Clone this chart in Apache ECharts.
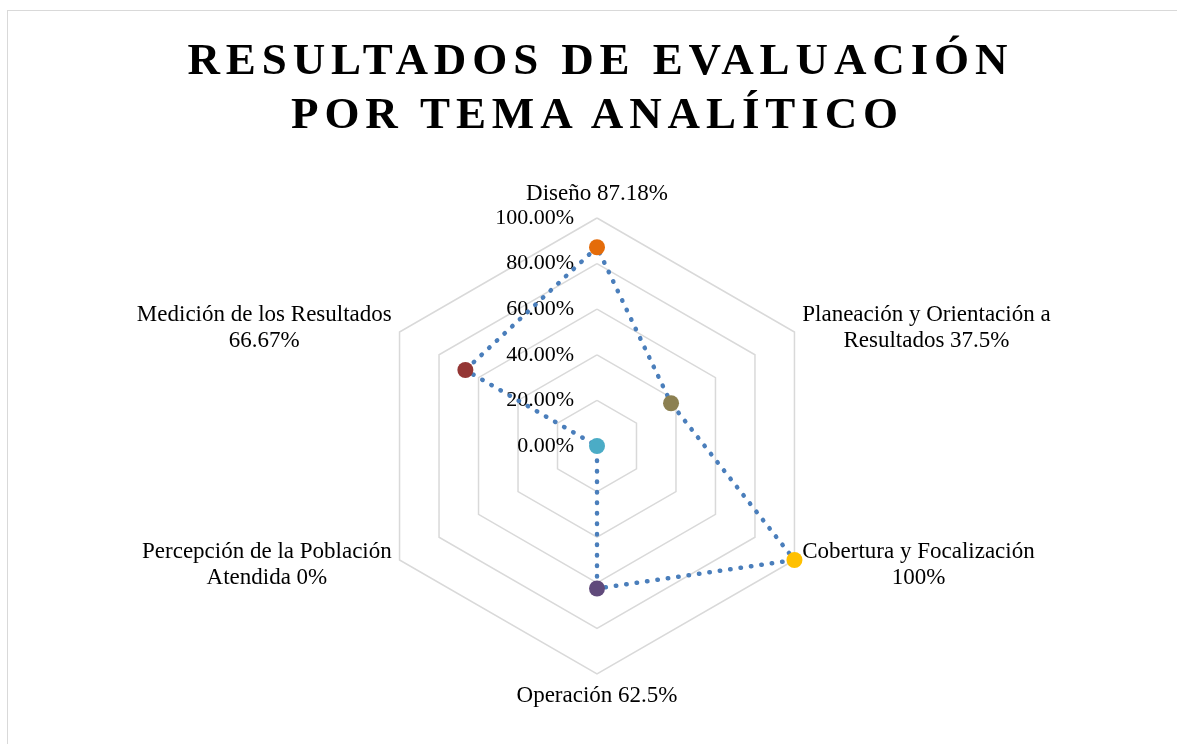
<!DOCTYPE html>
<html>
<head>
<meta charset="utf-8">
<script src="https://cdn.jsdelivr.net/npm/echarts@6/dist/echarts.min.js"></script>
<style>
  html, body { margin: 0; padding: 0; background: #fff; overflow: hidden; }
  #frame { position: absolute; left: 7px; top: 10px; width: 1200px; height: 800px; border: 1px solid #d9d9d9; box-sizing: border-box; }
  #title { position: absolute; left: 0; top: 32px; width: 1195px; text-align: center;
           font-family: 'Liberation Serif', serif; font-weight: bold; font-size: 45px; line-height: 54px;
           letter-spacing: 5.9px; text-indent: 5.9px; color: #000; }
  #chart { position: absolute; left: 0; top: 0; width: 1177px; height: 744px; }
</style>
</head>
<body>
<div id="frame"></div>
<div id="chart"></div>
<div id="title">RESULTADOS DE EVALUACIÓN<br>POR TEMA ANALÍTICO</div>
<script>
// ---- data (clockwise from the top) ----
const categories = [
  'Diseño',
  'Planeación y Orientación a Resultados',
  'Cobertura y Focalización',
  'Operación',
  'Percepción de la Población Atendida',
  'Medición de los Resultados'
];
const valueLabels = ['87.18%', '37.5%', '100%', '62.5%', '0%', '66.67%'];
const values = [87.18, 37.5, 100, 62.5, 0, 66.67];
const axisMin = 0;
const axisMax = 100;
const axisSplit = 5;
// label line breaks as in the reference
const nameLines = [
  ['Diseño 87.18%'],
  ['Planeación y Orientación a', 'Resultados 37.5%'],
  ['Cobertura y Focalización', '100%'],
  ['Operación 62.5%'],
  ['Percepción de la Población', 'Atendida 0%'],
  ['Medición de los Resultados', '66.67%']
];
const pointColors = ['#E46C0A', '#8C8051', '#FFC000', '#604A7B', '#4BACC6', '#943634'];

const FONT = 'Liberation Serif';
const chart = echarts.init(document.getElementById('chart'), null, { renderer: 'canvas' });

// ECharts radar places indicators counter-clockwise; reorder so they run clockwise
const order = [0, 5, 4, 3, 2, 1];
const radarCats = order.map(i => categories[i]);
const radarVals = order.map(i => values[i]);

const indicator = radarCats.map((c, k) => {
  const ind = { name: c, min: axisMin, max: axisMax };
  if (k === 0) {
    ind.axisLabel = {
      show: true,
      margin: 23,
      color: '#000',
      fontFamily: FONT,
      fontSize: 22,
      formatter: v => Number(v).toFixed(2) + '%'
    };
  }
  return ind;
});

const option = {
  backgroundColor: 'transparent',
  animation: false,
  radar: {
    center: [597, 446],
    radius: 228,
    startAngle: 90,
    shape: 'polygon',
    splitNumber: axisSplit,
    nameGap: 9,
    indicator: indicator,
    axisName: {
      color: '#000',
      fontFamily: FONT,
      fontSize: 23,
      lineHeight: 26,
      formatter: function (name) {
        const i = categories.indexOf(name);
        return nameLines[i].map(l => '{c|' + l + '}').join('\n');
      },
      rich: { c: { align: 'center', color: '#000', fontFamily: FONT, fontSize: 23, lineHeight: 26 } }
    },
    splitLine: { lineStyle: { color: '#d9d9d9', width: 1.5 } },
    splitArea: { show: false },
    axisLine: { show: false },
    axisTick: { show: false },
    axisLabel: { show: false }
  },
  polar: { center: [597, 446], radius: 228 },
  angleAxis: { type: 'category', data: categories, startAngle: 90, clockwise: true, boundaryGap: false, show: false },
  radiusAxis: { type: 'value', min: axisMin, max: axisMax, show: false },
  series: [
    {
      type: 'radar',
      symbol: 'none',
      z: 2,
      lineStyle: { color: '#4A7EBB', width: 4.5, type: [0.5, 10], cap: 'round' },
      data: [{ value: radarVals, name: 'Resultados' }]
    },
    {
      type: 'scatter',
      coordinateSystem: 'polar',
      symbol: 'circle',
      symbolSize: 16,
      z: 5,
      itemStyle: { opacity: 1 },
      data: values.map((v, i) => ({ value: [v, categories[i]], itemStyle: { color: pointColors[i], opacity: 1 } }))
    }
  ]
};
chart.setOption(option);
</script>
</body>
</html>
